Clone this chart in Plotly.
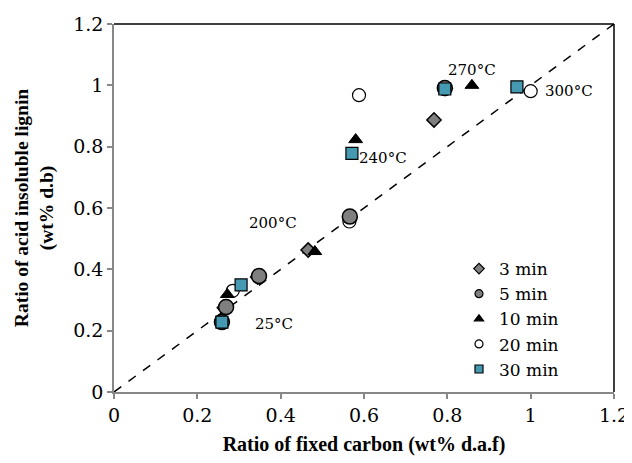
import plotly.graph_objects as go

# ---- data ----
series_names = ["3 min", "5 min", "10 min", "20 min", "30 min"]
x_3min = [0.265, 0.345, 0.466, 0.566, 0.768, 0.795]
y_3min = [0.275, 0.375, 0.463, 0.570, 0.887, 0.990]
x_5min = [0.259, 0.269, 0.348, 0.566, 0.794]
y_5min = [0.228, 0.277, 0.378, 0.572, 0.991]
x_10min = [0.272, 0.482, 0.580, 0.859]
y_10min = [0.318, 0.458, 0.823, 1.000]
x_20min = [0.260, 0.285, 0.565, 0.588, 1.000]
y_20min = [0.228, 0.330, 0.556, 0.968, 0.981]
x_30min = [0.259, 0.305, 0.571, 0.794, 0.967]
y_30min = [0.228, 0.349, 0.778, 0.988, 0.995]
diag = [0, 1.2]
temp_labels = ["25°C", "200°C", "240°C", "270°C", "300°C"]
temp_x = [0.384, 0.382, 0.646, 0.859, 1.093]
temp_y = [0.222, 0.551, 0.763, 1.050, 0.980]
ticks = [0, 0.2, 0.4, 0.6, 0.8, 1, 1.2]
tick_text = ["0", "0.2", "0.4", "0.6", "0.8", "1", "1.2"]

TEAL = "#4599B0"
GRAY = "#7F7F7F"
SERIF = "DejaVu Serif"
TNR = "Liberation Serif"

styles = {
    "3 min": dict(symbol="diamond", color=GRAY, line=dict(color="black", width=1.5), size=11),
    "5 min": dict(symbol="circle", color=GRAY, line=dict(color="black", width=1.5), size=15),
    "10 min": dict(symbol="triangle-up", color="black", line=dict(color="black", width=1), size=12),
    "20 min": dict(symbol="circle", color="white", line=dict(color="black", width=1.2), size=13),
    "30 min": dict(symbol="square", color=TEAL, line=dict(color="black", width=1.2), size=12),
}
data = {
    "3 min": (x_3min, y_3min),
    "5 min": (x_5min, y_5min),
    "10 min": (x_10min, y_10min),
    "20 min": (x_20min, y_20min),
    "30 min": (x_30min, y_30min),
}

fig = go.Figure()
fig.add_trace(go.Scatter(x=diag, y=diag, mode="lines",
                         line=dict(color="black", width=1.5, dash="dash"),
                         showlegend=False, hoverinfo="skip", cliponaxis=False))
draw_order = ["3 min", "20 min", "5 min", "10 min", "30 min"]
for name in draw_order:
    xs, ys = data[name]
    st = styles[name]
    fig.add_trace(go.Scatter(x=xs, y=ys, mode="markers", name=name, showlegend=False,
                             marker=dict(symbol=st["symbol"], color=st["color"],
                                         size=st["size"], line=st["line"])))
# legend entries with smaller markers
for i, name in enumerate(series_names):
    st = styles[name]
    fig.add_trace(go.Scatter(x=[None], y=[None], mode="markers", name=name,
                             legendrank=i + 1,
                             marker=dict(symbol=st["symbol"], color=st["color"],
                                         size=8, line=dict(color="black", width=1.2))))

for t, tx, ty in zip(temp_labels, temp_x, temp_y):
    fig.add_annotation(x=tx, y=ty, text=t, showarrow=False,
                       font=dict(family=SERIF, size=15, color="black"))

axis_common = dict(range=[0, 1.2], tickvals=ticks, ticktext=tick_text,
                   showgrid=False, zeroline=False, showline=True, automargin=False,
                   linecolor="#878787", linewidth=1.5, ticks="outside",
                   tickcolor="#878787", ticklen=5, tickwidth=1.5,
                   tickfont=dict(family=SERIF, size=19, color="black"))
fig.update_xaxes(**axis_common,
                 title=dict(text="<b>Ratio of fixed carbon (wt% d.a.f)</b>",
                            font=dict(family=TNR, size=20, color="black"), standoff=12))
fig.update_yaxes(**axis_common,
                 title=dict(text="<b>Ratio of acid insoluble lignin<br>(wt% d.b)</b>",
                            font=dict(family=TNR, size=19.5, color="black"), standoff=14))

# top and right borders (black)
fig.add_shape(type="line", xref="paper", yref="paper", x0=0, x1=1, y0=1, y1=1,
              line=dict(color="black", width=1.5))
fig.add_shape(type="line", xref="paper", yref="paper", x0=1, x1=1, y0=0, y1=1,
              line=dict(color="black", width=1.5))

# page body has an 8px margin: figure is sized/offset to compensate
fig.update_layout(
    width=624, height=455,
    margin=dict(l=106, r=18, t=16, b=71),
    plot_bgcolor="white", paper_bgcolor="white",
    legend=dict(x=0.69, y=0.383, xanchor="left", yanchor="top",
                bgcolor="rgba(0,0,0,0)", font=dict(family=SERIF, size=17, color="black"),
                itemwidth=30, tracegroupgap=0),
)
fig.write_html("out.html")
